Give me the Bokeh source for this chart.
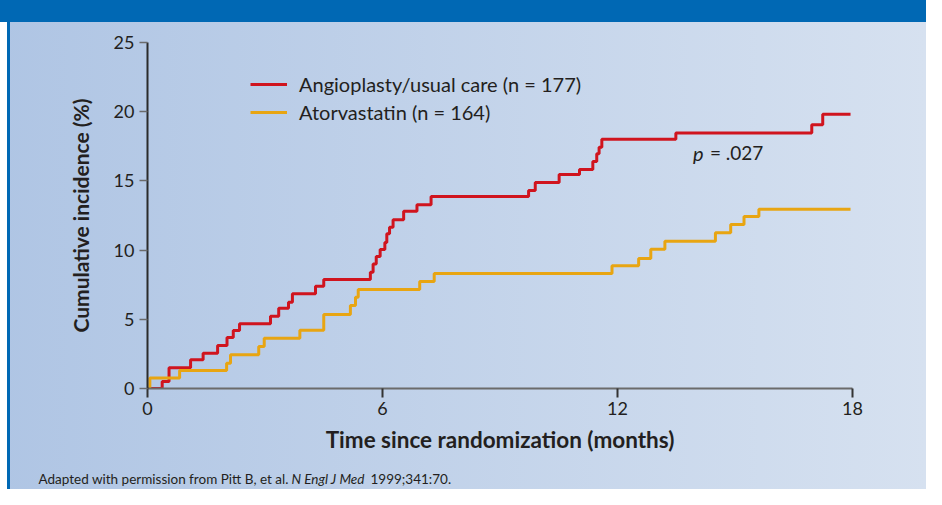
from bokeh.plotting import figure
from bokeh.layouts import column
from bokeh.models import Legend, LegendItem, Label, Range1d, FixedTicker
from bokeh.embed import file_html
from bokeh.resources import INLINE

# ---- data ----
months_angio = [0, 0.375, 0.55, 1.10, 1.42, 1.79, 2.03, 2.19, 2.35, 3.14, 3.35, 3.60, 3.70,
                4.29, 4.50, 5.69, 5.76, 5.84, 5.94, 6.06, 6.11, 6.18, 6.27, 6.54, 6.88, 7.24,
                9.73, 9.90, 10.51, 11.03, 11.37, 11.47, 11.53, 11.60, 13.49, 16.96, 17.24, 17.95]
incidence_angio = [0, 0.5, 1.5, 2.07, 2.55, 3.1, 3.68, 4.19, 4.67, 5.22, 5.8, 6.24, 6.84,
                   7.39, 7.88, 8.4, 9.0, 9.54, 10.04, 10.55, 11.18, 11.66, 12.19, 12.81, 13.27, 13.87,
                   14.31, 14.88, 15.46, 15.82, 16.4, 16.96, 17.43, 18.01, 18.47, 19.05, 19.82, 19.82]

months_atorva = [0, 0.06, 0.82, 2.02, 2.12, 2.84, 2.98, 3.89, 4.50, 5.18, 5.31, 5.38, 6.95, 7.32,
                 11.86, 12.54, 12.85, 13.21, 14.50, 14.89, 15.23, 15.61, 17.95]
incidence_atorva = [0, 0.75, 1.3, 1.83, 2.43, 3.03, 3.63, 4.21, 5.35, 6.0, 6.6, 7.15, 7.73, 8.31,
                    8.87, 9.39, 10.07, 10.64, 11.25, 11.85, 12.43, 12.96, 12.96]

x_ticks = [0, 6, 12, 18]
y_ticks = [0, 5, 10, 15, 20, 25]
series_labels = ["Angioplasty/usual care (n = 177)", "Atorvastatin (n = 164)"]
p_value_text = "= .027"
x_title = "Time since randomization (months)"
y_title = "Cumulative incidence (%)"
footnote_parts = ["Adapted with permission from Pitt B, et al.", "N Engl J Med", "1999;341:70."]

RED = "#d0141e"
ORANGE = "#e8a512"
TXT = "#231f20"
FONT = "Lato"
H_GRAD = "linear-gradient(to right, #ffffff 0px, #ffffff 7px, #0068b4 7px, #0068b4 10px, transparent 10px), " \
         "linear-gradient(to right, #afc5e4, #d6e1f0)"

p = figure(width=926, height=466, output_backend="svg", toolbar_location=None,
           x_range=Range1d(0, 18), y_range=Range1d(0, 25),
           min_border_left=147, min_border_right=74, min_border_top=42, min_border_bottom=78)
p.frame_align = False
p.background_fill_alpha = 0
p.border_fill_alpha = 0
p.outline_line_color = None
p.grid.visible = False
p.styles = {"background-image":
            "linear-gradient(to bottom, #0068b4 0px, #0068b4 22px, transparent 22px), " + H_GRAD}

r1 = p.step(months_angio, incidence_angio, mode="after", line_color=RED, line_width=3)
r2 = p.step(months_atorva, incidence_atorva, mode="after", line_color=ORANGE, line_width=3)

# axes
xa = p.xaxis[0]
xa.ticker = FixedTicker(ticks=x_ticks)
xa.axis_line_color = "#6b6b6b"
xa.axis_line_width = 2
xa.major_tick_line_color = "#333333"
xa.major_tick_line_width = 2
xa.major_tick_out = 9
xa.major_tick_in = 0
xa.minor_tick_line_color = None
xa.major_label_standoff = 4
xa.major_label_text_font = FONT
xa.major_label_text_font_size = "18px"
xa.major_label_text_color = TXT
xa.axis_label = x_title
xa.axis_label_text_font = FONT
xa.axis_label_text_font_style = "bold"
xa.axis_label_text_font_size = "22.5px"
xa.axis_label_text_color = TXT
xa.axis_label_standoff = 8

ya = p.yaxis[0]
ya.ticker = FixedTicker(ticks=y_ticks)
ya.axis_line_color = "#2b2b2b"
ya.axis_line_width = 2
ya.major_tick_line_color = "#6b6b6b"
ya.major_tick_line_width = 1.5
ya.major_tick_out = 8
ya.major_tick_in = 0
ya.minor_tick_line_color = None
ya.major_label_standoff = 5
ya.major_label_text_font = FONT
ya.major_label_text_font_size = "18px"
ya.major_label_text_color = TXT
ya.axis_label = y_title
ya.axis_label_text_font = FONT
ya.axis_label_text_font_style = "bold"
ya.axis_label_text_font_size = "21px"
ya.axis_label_text_color = TXT
ya.axis_label_standoff = 18

# legend
legend = Legend(items=[LegendItem(label=series_labels[0], renderers=[r1]),
                       LegendItem(label=series_labels[1], renderers=[r2])],
                location=(103, 264), orientation="vertical",
                background_fill_alpha=0, border_line_color=None,
                padding=0, margin=0, spacing=4,
                glyph_width=37, glyph_height=20, label_height=20, label_standoff=12,
                label_text_font=FONT, label_text_font_size="20px", label_text_color=TXT)
p.add_layout(legend)

# p-value annotation
p.add_layout(Label(x=13.93, y=17.05, text="p", text_font=FONT, text_font_style="italic",
                   text_font_size="20px", text_color=TXT, text_baseline="middle"))
p.add_layout(Label(x=14.36, y=17.05, text=p_value_text, text_font=FONT,
                   text_font_size="19px", text_color=TXT, text_baseline="middle"))

# footnote strip (a second, axis-less figure directly below)
f = figure(width=926, height=23, output_backend="svg", toolbar_location=None,
           x_range=Range1d(0, 926), y_range=Range1d(0, 23),
           x_axis_type=None, y_axis_type=None,
           min_border_left=0, min_border_right=0, min_border_top=0, min_border_bottom=0)
f.frame_align = False
f.background_fill_alpha = 0
f.border_fill_alpha = 0
f.outline_line_color = None
f.grid.visible = False
f.styles = {"background-image": H_GRAD}
fn_x = [38, 291, 370]
fn_style = ["normal", "italic", "normal"]
for txt, fx, st in zip(footnote_parts, fn_x, fn_style):
    f.add_layout(Label(x=fx, y=11, text=txt,
                       text_font=FONT, text_font_style=st, text_font_size="13.5px",
                       text_color=TXT, text_baseline="middle"))

layout = column(p, f, spacing=0)
open("out.html", "w").write(file_html(layout, INLINE))
